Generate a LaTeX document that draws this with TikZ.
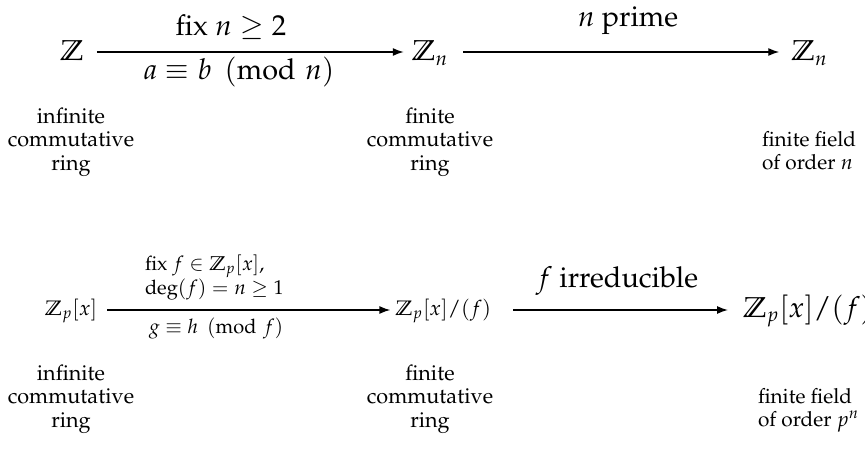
\documentclass[tikz,border=0pt]{standalone}
\usepackage[T1]{fontenc}
\usepackage{mathpazo}
\usepackage{amsmath,amssymb}
\usetikzlibrary{arrows.meta,calc}
\begin{document}
\begin{tikzpicture}[x=0.5pt,y=-0.5pt,
  txt/.style={inner sep=0pt, outer sep=0pt, anchor=base},
  big/.style={txt, font=\fontsize{14.4}{17}\selectfont},
  sm/.style={txt, font=\fontsize{10.5}{11.5}\selectfont},
  lab/.style={txt, font=\fontsize{10}{12}\selectfont},
  desc/.style={txt, align=center, font=\fontsize{10.8}{11.75}\selectfont},
  fdesc/.style={txt, align=left, anchor=base west, font=\fontsize{10.4}{11.2}\selectfont},
  arr/.style={-{Latex[length=5.5pt,width=4pt]}, line width=0.7pt}]
\useasboundingbox (0,0) rectangle (865,449);
% top row
\coordinate (ax1) at (0,52);
\node[big] (Z) at (72,61) {$\mathbb{Z}$};
\node[big] (Zn1) at (430,61) {$\mathbb{Z}_n$};
\node[big] (Zn2) at (809.5,61) {$\mathbb{Z}_n$};
\draw[arr] ($(Z.east |- ax1)+(13,0)$) -- ($(Zn1.west |- ax1)+(-8,0)$);
\draw[arr] ($(Zn1.east |- ax1)+(15,0)$) -- ($(Zn2.west |- ax1)+(-12,0)$);
\node[big] (l1) at (231,36) {fix $n \geq 2$};
\node[big] (l2) at (239,80) {$a \equiv b \pmod{n}$};
\node[big] (l3) at (628,27) {$n$ prime};
\node[desc] (d1) at (71,170) {infinite\\commutative\\ring};
\node[desc] (d2) at (430,170) {finite\\commutative\\ring};
\node[fdesc] (d3) at (762,169) {finite field\\of order $n$};
% bottom row
\coordinate (ax2) at (0,310);
\node[sm] (P) at (71,315) {$\mathbb{Z}_p[x]$};
\node[sm, anchor=base east] (Q1) at (491,315) {$\mathbb{Z}_p[x]/(f)$};
\node[big, anchor=base west] (Q2) at (743,317) {$\mathbb{Z}_p[x]/(f)$};
\draw[arr] ($(P.east |- ax2)+(10,0)$) -- ($(Q1.west |- ax2)+(-5,0)$);
\draw[arr] ($(Q1.east |- ax2)+(22,0)$) -- ($(Q2.west |- ax2)+(-15,0)$);
\node[lab, align=left, anchor=base west] (l4) at (145,294) {fix $f \in \mathbb{Z}_p[x]$,\\$\deg(f) = n \geq 1$};
\node[lab] (l5) at (216,333) {$g \equiv h \pmod{f}$};
\node[big] (l6) at (617,287) {$f$ irreducible};
\node[desc] (d4) at (71,427) {infinite\\commutative\\ring};
\node[desc] (d5) at (430,427) {finite\\commutative\\ring};
\node[fdesc] (d6) at (758,426) {finite field\\of order $p^n$};
\end{tikzpicture}
\end{document}
